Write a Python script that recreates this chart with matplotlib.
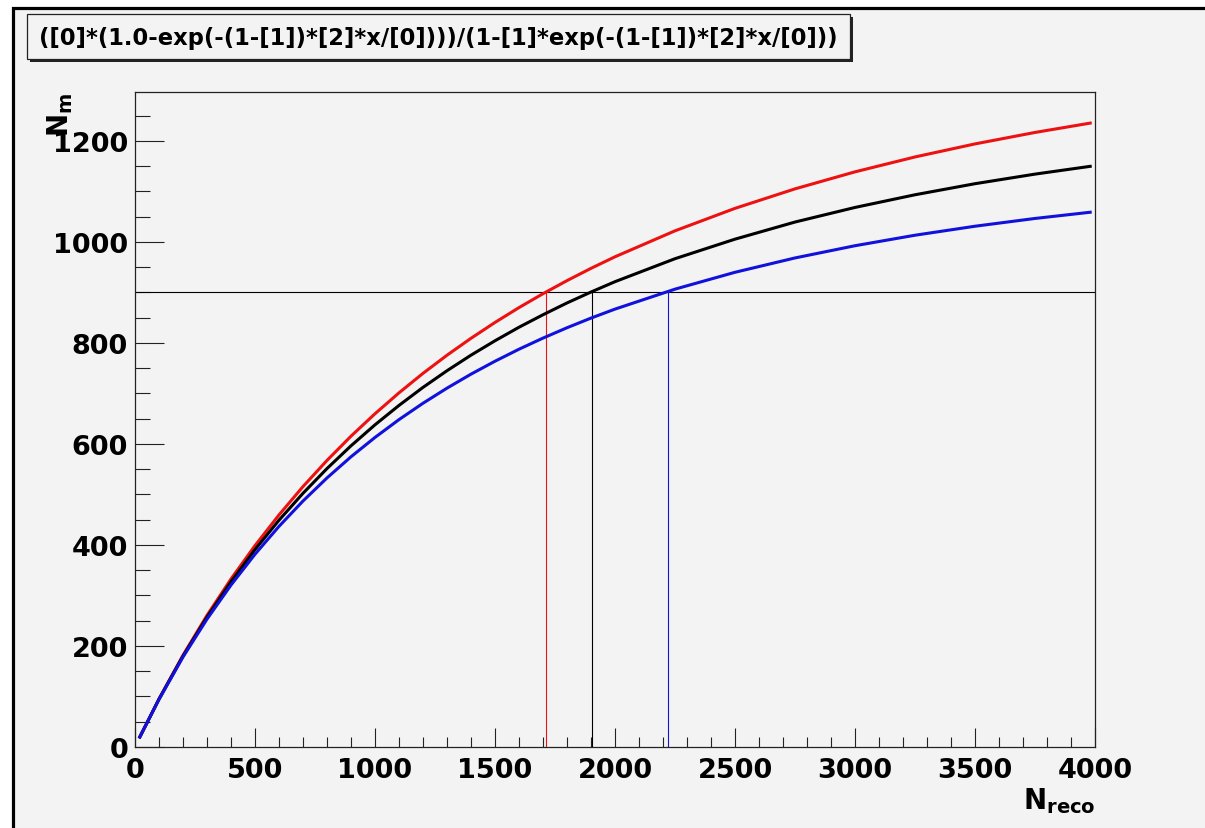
import numpy as np
import matplotlib.pyplot as plt
from matplotlib.patches import Rectangle
from matplotlib.ticker import MultipleLocator

# number of reconstructed vs number of matched, three fit variants
x_reco = [20, 100, 200, 300, 400, 500, 600, 700, 800, 900, 1000, 1100, 1200,
          1300, 1400, 1500, 1600, 1700, 1800, 1900, 2000, 2250, 2500, 2750,
          3000, 3250, 3500, 3750, 3980]
nm_red = [19.8, 95.2, 181.7, 260.6, 332.7, 398.8, 459.6, 515.7, 567.5, 615.5,
          659.9, 701.3, 739.9, 775.8, 809.3, 840.7, 870.1, 897.6, 923.5, 947.8,
          970.7, 1022.1, 1066.6, 1105.2, 1138.9, 1168.4, 1194.2, 1216.9, 1235.4]
nm_black = [19.8, 94.8, 180.1, 257.2, 327.2, 390.9, 449.1, 502.4, 551.4, 596.4,
            638.0, 676.4, 712.1, 745.1, 775.9, 804.4, 831.2, 855.9, 879.3, 900.9,
            921.4, 966.9, 1005.6, 1039.5, 1068.4, 1093.5, 1115.4, 1134.4, 1149.8]
nm_blue = [19.8, 94.2, 178.2, 253.2, 320.7, 381.7, 436.9, 487.1, 532.8, 574.7,
           613.0, 648.3, 680.7, 710.6, 738.3, 763.9, 787.7, 809.7, 830.2, 849.3,
           867.1, 906.6, 940.0, 968.4, 992.6, 1013.4, 1031.2, 1046.6, 1058.9]

# working point and where each curve reaches it
nm_cut = 900
x_cross = [1712, 1905, 2222]
colors = ['#ee1111', 'black', '#1111dd']

formula = '([0]*(1.0-exp(-(1-[1])*[2]*x/[0])))/(1-[1]*exp(-(1-[1])*[2]*x/[0]))'

bg = '#f3f3f3'
W, H = 1205, 829
fig = plt.figure(figsize=(W / 100, H / 100), dpi=100, facecolor='white')

# canvas frame
fig.add_artist(Rectangle((12.5 / W, -0.1), 1.2, 0.1 + (H - 8.5) / H,
                         transform=fig.transFigure, facecolor=bg,
                         edgecolor='black', lw=2.3, zorder=0))

# title pave with shadow
fig.add_artist(Rectangle((30 / W, (H - 63) / H), 823 / W, 45 / H,
                         transform=fig.transFigure, facecolor='#222222',
                         edgecolor='none', zorder=1))
fig.add_artist(Rectangle((27 / W, (H - 60) / H), 823 / W, 45 / H,
                         transform=fig.transFigure, facecolor=bg,
                         edgecolor='#222222', lw=0.9, zorder=2))
fig.text(438 / W, (H - 38) / H, formula, ha='center', va='center',
         fontsize=16.3, fontweight='bold', family='DejaVu Sans', zorder=3)

ax = fig.add_axes([135 / W, 81 / H, 960 / W, 655 / H])
ax.set_facecolor(bg)

ax.axhline(nm_cut, color='black', lw=0.8, zorder=2)
for xc, c in zip(x_cross, colors):
    ax.plot([xc, xc], [0, nm_cut], color=c, lw=0.8, zorder=2)

ax.plot(x_reco, nm_red, color=colors[0], lw=2.2, zorder=3, solid_joinstyle='round')
ax.plot(x_reco, nm_black, color=colors[1], lw=2.2, zorder=3, solid_joinstyle='round')
ax.plot(x_reco, nm_blue, color=colors[2], lw=2.2, zorder=3, solid_joinstyle='round')

ax.set_xlim(0, 4000)
ax.set_ylim(0, 1297)

ax.xaxis.set_major_locator(MultipleLocator(500))
ax.xaxis.set_minor_locator(MultipleLocator(100))
ax.yaxis.set_major_locator(MultipleLocator(200))
ax.yaxis.set_minor_locator(MultipleLocator(50))

ax.tick_params(axis='x', which='major', direction='in', length=13.7, width=0.8, pad=7, color='#222222')
ax.tick_params(axis='x', which='minor', direction='in', length=7.2, width=0.8, color='#222222')
ax.tick_params(axis='y', which='major', direction='in', length=21, width=0.8, pad=5, color='#222222')
ax.tick_params(axis='y', which='minor', direction='in', length=10.8, width=0.8, color='#222222')
for lab in ax.get_xticklabels() + ax.get_yticklabels():
    lab.set_fontsize(19.5)
    lab.set_fontweight('bold')

for s in ax.spines.values():
    s.set_linewidth(0.9)
    s.set_color('#222222')

ax.text(1.0, -0.058, r'$\mathbf{N_{reco}}$', transform=ax.transAxes,
        ha='right', va='top', fontsize=20)
ax.text(-0.078, 1.0, r'$\mathbf{N_m}$', transform=ax.transAxes,
        ha='center', va='top', rotation=90, fontsize=20)

fig.savefig('out.png', dpi=100, facecolor='white')
